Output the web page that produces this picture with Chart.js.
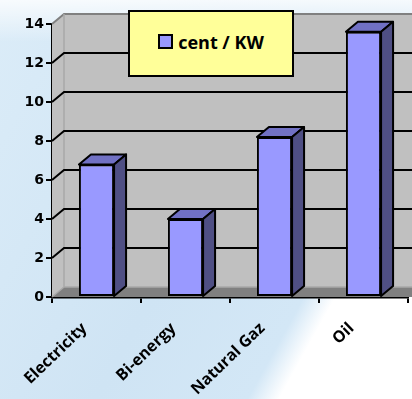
<!DOCTYPE html>
<html>
<head>
<meta charset="utf-8">
<script src="https://cdn.jsdelivr.net/npm/chart.js@4"></script>
<style>
html,body{margin:0;padding:0;}
body{width:412px;height:399px;overflow:hidden;position:relative;
background:
 linear-gradient(to bottom, rgba(255,255,255,0.8) 0px, rgba(255,255,255,0) 42px),
 linear-gradient(119deg, #dbecf8 0%, #cfe4f4 50%, #d3e7f6 74%, #ffffff 79%, #ffffff 100%);}
#wrap{position:absolute;left:0;top:0;width:412px;height:399px;}
#legend{position:absolute;left:128px;top:10px;width:162px;height:59px;background:#ffff99;border:2px solid #000;
 display:flex;align-items:center;justify-content:center;font:bold 18px "Open Sans",sans-serif;color:#000;padding-bottom:4px;box-sizing:content-box;}
#legend .sw{display:inline-block;width:11px;height:11px;background:#9999ff;border:2px solid #000;margin-right:5px;}
</style>
</head>
<body>
<div id="wrap"><canvas id="c" width="412" height="399"></canvas></div>
<div id="legend"></div>
<script>
const categories = ['Electricity', 'Bi-energy', 'Natural Gaz', 'Oil'];
const seriesLabel = 'cent / KW';
const values = [6.8, 4.0, 8.2, 13.6];
const yTicks = [0, 2, 4, 6, 8, 10, 12, 14];

const DX = 12, DY = 10;

const threeD = {
  id: 'threeD',
  beforeDatasetsDraw(chart) {
    const {ctx, chartArea: a, scales: {y}} = chart;
    const y0 = y.getPixelForValue(yTicks[0]);
    const yT = y.getPixelForValue(yTicks[yTicks.length - 1]);
    const R = a.right + DX + 30;
    ctx.save();
    ctx.fillStyle = '#c0c0c0';
    ctx.beginPath();
    ctx.moveTo(a.left, yT); ctx.lineTo(a.left + DX, yT - DY);
    ctx.lineTo(a.left + DX, y0 - DY); ctx.lineTo(a.left, y0);
    ctx.closePath(); ctx.fill();
    ctx.fillRect(a.left + DX, yT - DY, R - a.left - DX, y0 - yT);
    ctx.fillStyle = '#808080';
    ctx.beginPath();
    ctx.moveTo(a.left, y0); ctx.lineTo(a.left + DX, y0 - DY);
    ctx.lineTo(R, y0 - DY); ctx.lineTo(R - DX, y0);
    ctx.closePath(); ctx.fill();
    ctx.strokeStyle = '#808080'; ctx.lineWidth = 2;
    ctx.beginPath();
    ctx.moveTo(a.left, yT); ctx.lineTo(a.left + DX, yT - DY); ctx.lineTo(R, yT - DY);
    ctx.stroke();
    ctx.strokeStyle = '#a8a8a8'; ctx.lineWidth = 1.5;
    ctx.beginPath();
    ctx.moveTo(a.left + DX, yT - DY); ctx.lineTo(a.left + DX, y0 - DY); ctx.lineTo(R, y0 - DY);
    ctx.moveTo(a.left, y0); ctx.lineTo(a.left + DX, y0 - DY);
    ctx.stroke();
    ctx.strokeStyle = '#000'; ctx.lineWidth = 2;
    yTicks.forEach(v => {
      if (v === yTicks[0] || v === yTicks[yTicks.length - 1]) return;
      const py = y.getPixelForValue(v);
      ctx.beginPath();
      ctx.moveTo(a.left, py); ctx.lineTo(a.left + DX, py - DY); ctx.lineTo(R, py - DY);
      ctx.stroke();
    });
    ctx.restore();
  },
  afterDatasetsDraw(chart) {
    const {ctx} = chart;
    const meta = chart.getDatasetMeta(0);
    ctx.save();
    ctx.strokeStyle = '#000'; ctx.lineWidth = 2; ctx.lineJoin = 'round';
    meta.data.forEach(bar => {
      const {x, y, width, base} = bar.getProps(['x', 'y', 'width', 'base'], true);
      const x1 = x - width / 2, x2 = x + width / 2;
      ctx.fillStyle = '#7171c4';
      ctx.beginPath();
      ctx.moveTo(x1, y); ctx.lineTo(x1 + DX, y - DY); ctx.lineTo(x2 + DX, y - DY); ctx.lineTo(x2, y);
      ctx.closePath(); ctx.fill(); ctx.stroke();
      ctx.fillStyle = '#4f4f84';
      ctx.beginPath();
      ctx.moveTo(x2, y); ctx.lineTo(x2 + DX, y - DY); ctx.lineTo(x2 + DX, base - DY); ctx.lineTo(x2, base);
      ctx.closePath(); ctx.fill(); ctx.stroke();
    });
    ctx.restore();
  }
};

const legendEl = document.getElementById('legend');
legendEl.innerHTML = '<span class="sw"></span><span>' + seriesLabel + '</span>';

new Chart(document.getElementById('c'), {
  type: 'bar',
  data: {
    labels: categories,
    datasets: [{
      label: seriesLabel,
      data: values,
      backgroundColor: '#9999ff',
      borderColor: '#000',
      borderWidth: 2,
      borderSkipped: false,
      barPercentage: 0.395,
      categoryPercentage: 1.0
    }]
  },
  options: {
    responsive: false,
    animation: false,
    devicePixelRatio: 1,
    layout: {padding: {top: 24, right: 4, left: 0, bottom: 0}},
    plugins: {legend: {display: false}, tooltip: {enabled: false}},
    scales: {
      x: {
        offset: true,
        grid: {display: true, drawOnChartArea: false, offset: true, color: '#000', lineWidth: 2, tickLength: 6},
        border: {display: true, color: '#000', width: 2.5},
        ticks: {
          color: '#000', font: {family: 'Open Sans', weight: 'bold', size: 16},
          minRotation: 44, maxRotation: 44, padding: 16, labelOffset: -12, autoSkip: false
        },
        afterFit(s) { s.height = 102; }
      },
      y: {
        min: 0, max: 14,
        afterBuildTicks(s) { s.ticks = yTicks.map(v => ({value: v})); },
        grid: {display: true, drawOnChartArea: false, color: '#000', lineWidth: 2, tickLength: 6},
        border: {display: true, color: '#000', width: 2.5},
        ticks: {color: '#000', font: {family: 'DejaVu Sans', weight: 'bold', size: 14}, padding: 2},
        afterFit(s) { s.width = 52; }
      }
    }
  },
  plugins: [threeD]
});
</script>
</body>
</html>
